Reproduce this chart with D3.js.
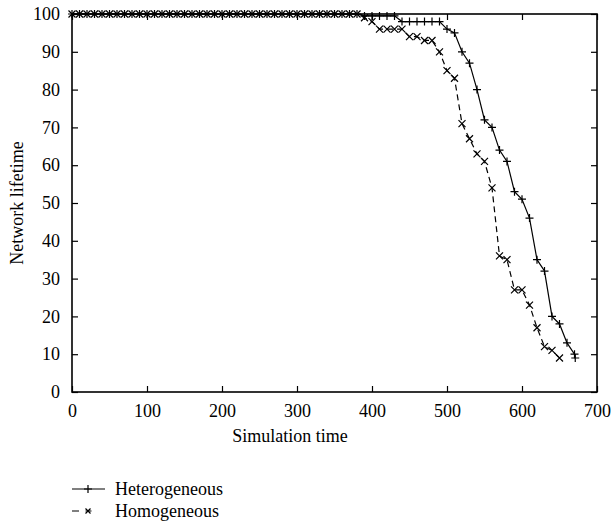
<!DOCTYPE html>
<html>
<head>
<meta charset="utf-8">
<script src="https://cdn.jsdelivr.net/npm/d3@7"></script>
<style>
  body { margin: 0; background: #fff; }
  svg text { font-family: "Liberation Serif", "Times New Roman", serif; fill: #000; }
</style>
</head>
<body>
<div id="chart"></div>
<script>
// simulation time steps and network lifetime for each scheme
var heteroX = [];
var heteroY = [];
for (var t = 0; t <= 380; t += 10) { heteroX.push(t); heteroY.push(100); }
heteroX = heteroX.concat([390, 400, 410, 420, 430, 440, 450, 460, 470, 480, 490,
    500, 510, 520, 530, 540, 550, 560, 570, 580, 590, 600, 610, 620, 630, 640, 650, 660, 670, 671]);
heteroY = heteroY.concat([99.5, 99.5, 99.5, 99.5, 99.5, 98, 98, 98, 98, 98, 98,
    96, 95, 90, 87, 80, 72, 70, 64, 61, 53, 51, 46, 35, 32, 20, 18, 13, 10, 9]);

var homoX = [];
var homoY = [];
for (var t = 0; t <= 380; t += 10) { homoX.push(t); homoY.push(100); }
homoX = homoX.concat([390, 400, 410, 420, 430, 440, 450, 460, 470, 480, 490,
    500, 510, 520, 530, 540, 550, 560, 570, 580, 590, 600, 610, 620, 630, 640, 650]);
homoY = homoY.concat([99, 98, 96, 96, 96, 96, 94, 94, 93, 93, 90,
    85, 83, 71, 67, 63, 61, 54, 36, 35, 27, 27, 23, 17, 12, 11, 9]);

var xTicks = [0, 100, 200, 300, 400, 500, 600, 700];
var yTicks = [0, 10, 20, 30, 40, 50, 60, 70, 80, 90, 100];
var seriesNames = ["Heterogeneous", "Homogeneous"];

var width = 613, height = 531;
var margin = { left: 72, right: 16, top: 14, bottom: 139 };
var fontSize = "18px";

var svg = d3.select("#chart")
    .append("svg")
    .attr("width", width)
    .attr("height", height);

var x = d3.scaleLinear().domain([0, 700]).range([margin.left, width - margin.right]);
var y = d3.scaleLinear().domain([0, 100]).range([height - margin.bottom, margin.top]);

var tickLen = 6;

// ticks inside the box, on all four sides
svg.append("g")
    .attr("transform", "translate(0," + y(0) + ")")
    .call(d3.axisBottom(x).tickValues(xTicks).tickSizeInner(-tickLen).tickSizeOuter(0).tickPadding(12))
    .call(styleAxis);
svg.append("g")
    .attr("transform", "translate(0," + y(100) + ")")
    .call(d3.axisTop(x).tickValues(xTicks).tickSizeInner(-tickLen).tickSizeOuter(0).tickFormat(""))
    .call(styleAxis);
svg.append("g")
    .attr("transform", "translate(" + x(0) + ",0)")
    .call(d3.axisLeft(y).tickValues(yTicks).tickSizeInner(-tickLen).tickSizeOuter(0).tickPadding(12))
    .call(styleAxis);
svg.append("g")
    .attr("transform", "translate(" + x(700) + ",0)")
    .call(d3.axisRight(y).tickValues(yTicks).tickSizeInner(-tickLen).tickSizeOuter(0).tickFormat(""))
    .call(styleAxis);

function styleAxis(g) {
    g.select(".domain").remove();
    g.selectAll("line").attr("stroke", "#000").attr("stroke-width", 1.2);
    g.selectAll("text").style("font-size", fontSize).style("font-family", "'Liberation Serif', serif");
}

svg.append("rect")
    .attr("x", x(0))
    .attr("y", y(100))
    .attr("width", x(700) - x(0))
    .attr("height", y(0) - y(100))
    .attr("fill", "none")
    .attr("stroke", "#000")
    .attr("stroke-width", 1.6);

var line = d3.line()
    .x(function(d) { return x(d[0]); })
    .y(function(d) { return y(d[1]); });

var hetero = d3.zip(heteroX, heteroY);
var homo = d3.zip(homoX, homoY);

svg.append("path")
    .datum(homo)
    .attr("d", line)
    .attr("fill", "none")
    .attr("stroke", "#000")
    .attr("stroke-width", 1.2)
    .attr("stroke-dasharray", "6,4");

svg.append("path")
    .datum(hetero)
    .attr("d", line)
    .attr("fill", "none")
    .attr("stroke", "#000")
    .attr("stroke-width", 1.2);

var plusPath = "M-4,0H4M0,-4V4";
var crossPath = "M-3.5,-3.5L3.5,3.5M-3.5,3.5L3.5,-3.5";

svg.selectAll(".plus")
    .data(hetero)
    .enter().append("path")
    .attr("class", "plus")
    .attr("transform", function(d) { return "translate(" + x(d[0]) + "," + y(d[1]) + ")"; })
    .attr("d", plusPath)
    .attr("stroke", "#000")
    .attr("stroke-width", 1.2);

svg.selectAll(".cross")
    .data(homo)
    .enter().append("path")
    .attr("class", "cross")
    .attr("transform", function(d) { return "translate(" + x(d[0]) + "," + y(d[1]) + ")"; })
    .attr("d", crossPath)
    .attr("stroke", "#000")
    .attr("stroke-width", 1.2);

// axis titles
svg.append("text")
    .attr("x", 290)
    .attr("y", 442)
    .attr("text-anchor", "middle")
    .style("font-size", fontSize)
    .text("Simulation time");

svg.append("text")
    .attr("transform", "translate(23," + ((y(0) + y(100)) / 2) + ") rotate(-90)")
    .attr("text-anchor", "middle")
    .style("font-size", fontSize)
    .text("Network lifetime");

// legend
var legend = svg.append("g");
seriesNames.forEach(function(name, i) {
    var ly = 489 + i * 22;
    var g = legend.append("g");
    g.append("line")
        .attr("x1", 72).attr("x2", 105)
        .attr("y1", ly).attr("y2", ly)
        .attr("stroke", "#000")
        .attr("stroke-width", 1.2)
        .attr("stroke-dasharray", i === 0 ? null : "7,6.5,6,20");
    g.append("path")
        .attr("transform", "translate(88," + ly + ")")
        .attr("d", i === 0 ? plusPath : "M-2.5,-2.5L2.5,2.5M-2.5,2.5L2.5,-2.5")
        .attr("stroke", "#000")
        .attr("stroke-width", 1.2);
    g.append("text")
        .attr("x", 115)
        .attr("y", ly + 6)
        .style("font-size", fontSize)
        .text(name);
});
</script>
</body>
</html>
